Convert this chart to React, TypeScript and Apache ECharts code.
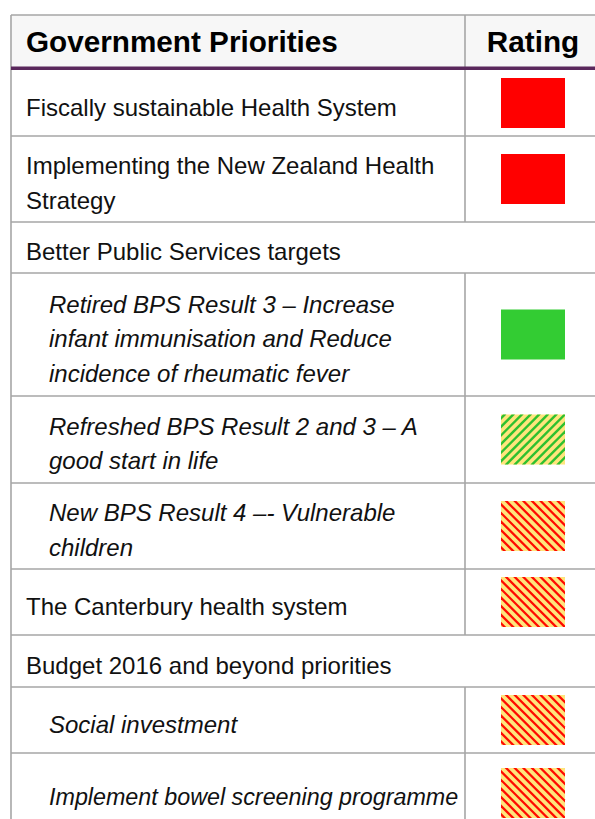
import React, { useEffect, useRef } from "react";
import * as echarts from "echarts";

// ---- Data ----
const HEADER_LABELS = ["Government Priorities", "Rating"];
const CATEGORIES = [
  "Fiscally sustainable Health System",
  "Implementing the New Zealand Health\nStrategy",
  "Better Public Services targets",
  "Retired BPS Result 3 – Increase\ninfant immunisation and Reduce\nincidence of rheumatic fever",
  "Refreshed BPS Result 2 and 3 – A\ngood start in life",
  "New BPS Result 4 –- Vulnerable\nchildren",
  "The Canterbury health system",
  "Budget 2016 and beyond priorities",
  "Social investment",
  "Implement bowel screening programme",
];
const INDENTED = [false, false, false, true, true, true, false, false, true, true];
const RATINGS: (string | null)[] = [
  "red",
  "red",
  null,
  "green",
  "greenHatch",
  "redHatch",
  "redHatch",
  null,
  "redHatch",
  "redHatch",
];

// ---- Layout ----
const W = 595;
const H = 819;
const LEFT = 11;
const TOP = 15;
const DIVIDER_X = 465;
const RIGHT = 601;
const HEADER_BOTTOM = 67;
const FIRST_ROW_TOP = 70;
const ROW_HEIGHTS = [66, 86, 51, 123, 87, 86, 66, 52, 66, 80];
const ROW_FONT_SIZES = [24, 24, 24, 24, 24, 24, 24, 24, 24, 23.3];
const LINE_HEIGHT = 34.5;
const TEXT_DY = 4;
const TEXT_X = 26;
const TEXT_X_INDENT = 49;
const BOX_W = 64;
const BOX_H = 50;
const BOX_X = 501;

const BORDER = "#a6a6a6";
const PURPLE = "#5a285c";
const HEADER_BG = "#f7f7f7";
const FONT = "'Liberation Sans', Arial, Helvetica, sans-serif";
const COLORS: Record<string, string> = {
  red: "#ff0000",
  green: "#33cc33",
  yellow: "#ffe57c",
  greenStripe: "#2fc02f",
  redStripe: "#ff0a00",
};

type Pt = [number, number];

function clipAxis(pts: Pt[], axis: 0 | 1, val: number, keepGreater: boolean): Pt[] {
  const out: Pt[] = [];
  const n = pts.length;
  const inside = (p: Pt) => (keepGreater ? p[axis] >= val : p[axis] <= val);
  const inter = (a: Pt, b: Pt): Pt => {
    const t = (val - a[axis]) / (b[axis] - a[axis]);
    return [a[0] + t * (b[0] - a[0]), a[1] + t * (b[1] - a[1])];
  };
  for (let i = 0; i < n; i++) {
    const cur = pts[i];
    const prev = pts[(i + n - 1) % n];
    const inC = inside(cur);
    const inP = inside(prev);
    if (inC) {
      if (!inP) out.push(inter(prev, cur));
      out.push(cur);
    } else if (inP) {
      out.push(inter(prev, cur));
    }
  }
  return out;
}

function clipRect(pts: Pt[], x0: number, y0: number, x1: number, y1: number): Pt[] {
  let p = clipAxis(pts, 0, x0, true);
  if (p.length) p = clipAxis(p, 0, x1, false);
  if (p.length) p = clipAxis(p, 1, y0, true);
  if (p.length) p = clipAxis(p, 1, y1, false);
  return p;
}

function hatch(
  x0: number,
  y0: number,
  w: number,
  h: number,
  dir: "/" | "\\",
  color: string,
  period: number,
  stripeW: number,
  offset: number
) {
  const x1 = x0 + w;
  const y1 = y0 + h;
  const els: any[] = [];
  const ya = y0 - 5;
  const yb = y1 + 5;
  if (dir === "/") {
    const cMin = x0 + y0 - period;
    const cMax = x1 + y1;
    for (let c = cMin + offset; c <= cMax; c += period) {
      const c2 = c + stripeW;
      const poly: Pt[] = [
        [c - ya, ya],
        [c2 - ya, ya],
        [c2 - yb, yb],
        [c - yb, yb],
      ];
      const cl = clipRect(poly, x0, y0, x1, y1);
      if (cl.length >= 3) els.push({ type: "polygon", shape: { points: cl }, style: { fill: color } });
    }
  } else {
    const cMin = x0 - y1 - period;
    const cMax = x1 - y0;
    for (let c = cMin + offset; c <= cMax; c += period) {
      const c2 = c + stripeW;
      const poly: Pt[] = [
        [c + ya, ya],
        [c2 + ya, ya],
        [c2 + yb, yb],
        [c + yb, yb],
      ];
      const cl = clipRect(poly, x0, y0, x1, y1);
      if (cl.length >= 3) els.push({ type: "polygon", shape: { points: cl }, style: { fill: color } });
    }
  }
  return els;
}

function buildGraphic() {
  const g: any[] = [];
  g.push({
    type: "rect",
    shape: { x: LEFT, y: TOP, width: RIGHT - LEFT, height: HEADER_BOTTOM - TOP },
    style: { fill: HEADER_BG },
  });
  g.push({
    type: "text",
    x: TEXT_X,
    y: (TOP + HEADER_BOTTOM) / 2 + 0.5,
    style: {
      text: HEADER_LABELS[0],
      font: `bold 29.7px ${FONT}`,
      fill: "#000",
      verticalAlign: "middle",
      align: "left",
    },
  });
  g.push({
    type: "text",
    x: (DIVIDER_X + RIGHT) / 2,
    y: (TOP + HEADER_BOTTOM) / 2 + 0.5,
    style: {
      text: HEADER_LABELS[1],
      font: `bold 29.7px ${FONT}`,
      fill: "#000",
      verticalAlign: "middle",
      align: "center",
    },
  });

  let y = FIRST_ROW_TOP;
  const hLines: number[] = [];
  const divSegments: [number, number][] = [[TOP, HEADER_BOTTOM]];
  CATEGORIES.forEach((label, i) => {
    const h = ROW_HEIGHTS[i];
    const cy = y + h / 2;
    g.push({
      type: "text",
      x: INDENTED[i] ? TEXT_X_INDENT : TEXT_X,
      y: cy + TEXT_DY,
      style: {
        text: label,
        font: `${INDENTED[i] ? "italic " : ""}${ROW_FONT_SIZES[i]}px ${FONT}`,
        lineHeight: LINE_HEIGHT,
        fill: "#111",
        verticalAlign: "middle",
        align: "left",
      },
    });
    const r = RATINGS[i];
    if (r) {
      const bx = BOX_X;
      const by = cy - BOX_H / 2;
      if (r === "red" || r === "green") {
        g.push({
          type: "rect",
          shape: { x: bx, y: by, width: BOX_W, height: BOX_H },
          style: { fill: COLORS[r] },
        });
      } else {
        g.push({
          type: "rect",
          shape: { x: bx, y: by, width: BOX_W, height: BOX_H },
          style: { fill: COLORS.yellow },
        });
        const stripes =
          r === "greenHatch"
            ? hatch(bx, by, BOX_W, BOX_H, "/", COLORS.greenStripe, 8.6, 3.4, 2)
            : hatch(bx, by, BOX_W, BOX_H, "\\", COLORS.redStripe, 8.6, 3.2, 2);
        g.push(...stripes);
      }
      divSegments.push([y, y + h]);
    }
    y += h;
    hLines.push(y);
  });

  hLines.forEach((ly) => {
    g.push({
      type: "line",
      shape: { x1: LEFT, y1: ly, x2: RIGHT, y2: ly },
      style: { stroke: BORDER, lineWidth: 1.6 },
    });
  });
  g.push({
    type: "line",
    shape: { x1: LEFT, y1: TOP, x2: RIGHT, y2: TOP },
    style: { stroke: BORDER, lineWidth: 1.6 },
  });
  g.push({
    type: "line",
    shape: { x1: LEFT, y1: TOP, x2: LEFT, y2: H + 20 },
    style: { stroke: BORDER, lineWidth: 1.6 },
  });
  divSegments.forEach(([a, b]) => {
    g.push({
      type: "line",
      shape: { x1: DIVIDER_X, y1: a, x2: DIVIDER_X, y2: b },
      style: { stroke: BORDER, lineWidth: 1.6 },
    });
  });
  g.push({
    type: "line",
    shape: { x1: LEFT, y1: 68.2, x2: RIGHT, y2: 68.2 },
    style: { stroke: PURPLE, lineWidth: 3.4 },
  });
  return g;
}

export default function App() {
  const ref = useRef<HTMLDivElement>(null);
  useEffect(() => {
    if (!ref.current) return;
    const chart = echarts.init(ref.current, null, { renderer: "svg" });
    chart.setOption({
      animation: false,
      backgroundColor: "#ffffff",
      graphic: { elements: buildGraphic() },
    });
    return () => chart.dispose();
  }, []);
  return (
    <div
      ref={ref}
      style={{ position: "fixed", left: 0, top: 0, width: W, height: H, background: "#fff" }}
    />
  );
}
